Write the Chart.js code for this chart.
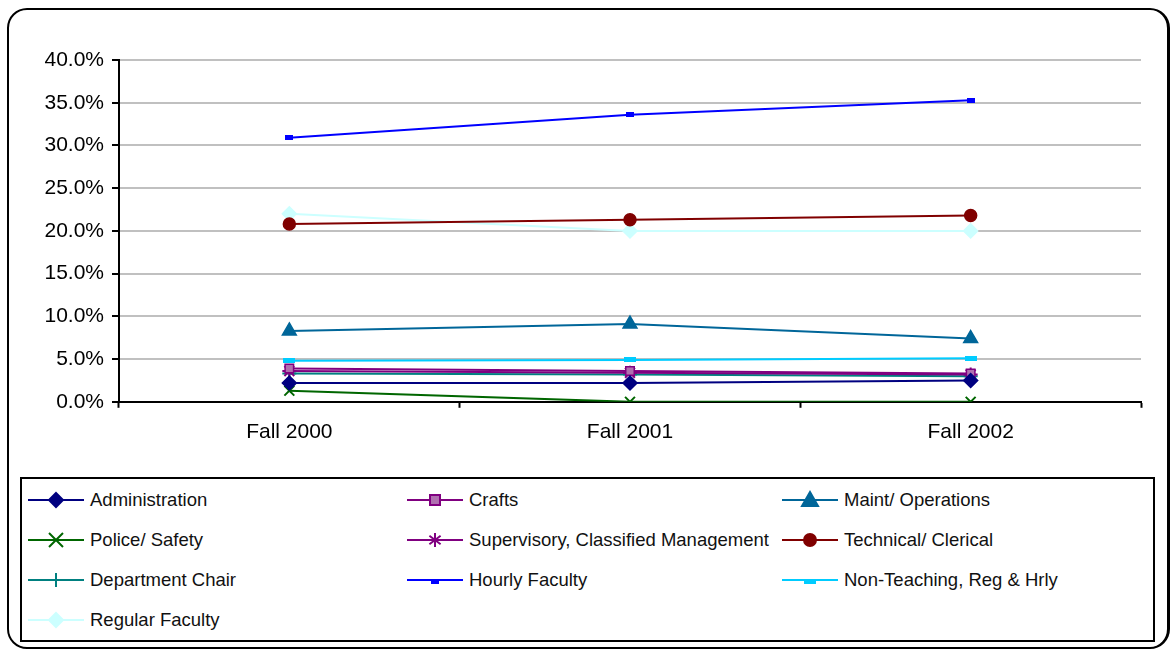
<!DOCTYPE html>
<html>
<head>
<meta charset="utf-8">
<script src="https://cdn.jsdelivr.net/npm/chart.js@4/dist/chart.umd.min.js"></script>
<style>
  body { margin: 0; background: #fff; font-family: "Liberation Sans", Arial, sans-serif; }
  #frame { position: absolute; left: 7px; top: 8px; width: 1158px; height: 637px; border: 2px solid #000; border-right-width: 3px; border-radius: 20px; }
  #chartWrap { position: absolute; left: 0; top: 0; width: 1172px; height: 470px; }
  #legend { position: absolute; left: 20px; top: 477px; width: 1131px; height: 161px; border: 2px solid #000; }
  .item { position: absolute; height: 24px; display: flex; align-items: center; font-size: 18.5px; color: #111; white-space: nowrap; }
  .item canvas { margin-right: 6px; }
</style>
</head>
<body>
<div id="frame"></div>
<div id="chartWrap"><canvas id="chart" width="1172" height="470"></canvas></div>
<div id="legend"></div>
<script>
// ===============================
// DATA
// ===============================
const terms = ["Fall 2000", "Fall 2001", "Fall 2002"];

const administration = [2.2, 2.2, 2.5];
const crafts = [3.9, 3.6, 3.3];
const maintOperations = [8.3, 9.1, 7.4];
const policeSafety = [1.3, 0.0, 0.0];
const supervisory = [3.6, 3.4, 3.2];
const technicalClerical = [20.8, 21.3, 21.8];
const departmentChair = [3.3, 3.2, 3.0];
const hourlyFaculty = [30.9, 33.6, 35.3];
const nonTeaching = [4.8, 4.9, 5.1];
const regularFaculty = [22.0, 20.0, 20.0];

const yTicks = [0, 5, 10, 15, 20, 25, 30, 35, 40];

// ===============================
// SERIES STYLES
// ===============================
const series = [
  { label: "Administration", data: administration, color: "#000080", style: "rectRot", radius: 7, fill: "#000080" },
  { label: "Crafts", data: crafts, color: "#800080", style: "rect", radius: 6, fill: "#b070b0" },
  { label: "Maint/ Operations", data: maintOperations, color: "#006699", style: "triangle", radius: 8, fill: "#006699" },
  { label: "Police/ Safety", data: policeSafety, color: "#006600", style: "crossRot", radius: 7, fill: "#006600" },
  { label: "Supervisory, Classified Management", data: supervisory, color: "#800080", style: "star", radius: 7, fill: "#800080" },
  { label: "Technical/ Clerical", data: technicalClerical, color: "#800000", style: "circle", radius: 6, fill: "#800000" },
  { label: "Department Chair", data: departmentChair, color: "#008080", style: "cross", radius: 7, fill: "#008080" },
  { label: "Hourly Faculty", data: hourlyFaculty, color: "#0000ff", style: "dash", radius: 4, fill: "#0000ff" },
  { label: "Non-Teaching, Reg & Hrly", data: nonTeaching, color: "#00ccff", style: "dash", radius: 6, fill: "#00ccff" },
  { label: "Regular Faculty", data: regularFaculty, color: "#ccffff", style: "rectRot", radius: 7, fill: "#ccffff" }
];

// small horizontal dash marker drawn on an offscreen canvas
function dashImage(color, w, h) {
  const c = document.createElement("canvas");
  c.width = w; c.height = h;
  const g = c.getContext("2d");
  g.fillStyle = color;
  g.fillRect(0, 0, w, h);
  return c;
}

const datasets = series.map(s => ({
  label: s.label,
  data: s.data,
  borderColor: s.color,
  backgroundColor: s.fill,
  borderWidth: 2,
  tension: 0,
  pointStyle: s.style === "dash" ? dashImage(s.color, s.radius * 2, 5) : s.style,
  pointRadius: s.radius,
  pointBackgroundColor: s.fill,
  pointBorderColor: s.color,
  pointBorderWidth: s.style === "cross" || s.style === "crossRot" || s.style === "star" ? 2 : 1.5
}));

// ===============================
// CHART
// ===============================
const font = { family: "'Liberation Sans', Arial, sans-serif", size: 21 };

new Chart(document.getElementById("chart"), {
  type: "line",
  data: { labels: terms, datasets: datasets },
  options: {
    responsive: false,
    animation: false,
    layout: { padding: { top: 60, right: 31, bottom: 13, left: 0 } },
    plugins: { legend: { display: false }, tooltip: { enabled: false } },
    scales: {
      x: {
        offset: true,
        grid: { display: true, drawOnChartArea: false, offset: true, tickLength: 6, tickColor: "#000", tickWidth: 2 },
        border: { display: true, color: "#000", width: 2 },
        ticks: { color: "#000", font: font, padding: 12 }
      },
      y: {
        min: 0,
        max: 40,
        afterFit: scale => { scale.width = 119; },
        afterBuildTicks: scale => { scale.ticks = yTicks.map(v => ({ value: v })); },
        grid: { color: "#c0c0c0", lineWidth: 2, tickLength: 7, tickColor: "#000", tickWidth: 2 },
        border: { display: true, color: "#000", width: 2 },
        ticks: { color: "#000", font: font, padding: 8, callback: v => v.toFixed(1) + "%" }
      }
    }
  }
});

// ===============================
// LEGEND (3 columns, like the original)
// ===============================
function drawMarker(g, s, x, y) {
  g.fillStyle = s.fill;
  g.strokeStyle = s.color;
  g.lineWidth = 2;
  const r = s.radius;
  g.beginPath();
  switch (s.style) {
    case "rectRot":
      g.moveTo(x, y - r); g.lineTo(x + r, y); g.lineTo(x, y + r); g.lineTo(x - r, y); g.closePath();
      g.fill(); g.stroke(); break;
    case "rect":
      g.rect(x - r + 1, y - r + 1, 2 * r - 2, 2 * r - 2); g.fill(); g.stroke(); break;
    case "triangle":
      g.moveTo(x, y - r); g.lineTo(x + r, y + r * 0.75); g.lineTo(x - r, y + r * 0.75); g.closePath();
      g.fill(); g.stroke(); break;
    case "circle":
      g.arc(x, y, r, 0, Math.PI * 2); g.fill(); g.stroke(); break;
    case "crossRot":
      g.moveTo(x - r, y - r); g.lineTo(x + r, y + r); g.moveTo(x + r, y - r); g.lineTo(x - r, y + r); g.stroke(); break;
    case "cross":
      g.moveTo(x, y - r); g.lineTo(x, y + r); g.stroke(); break;
    case "star":
      g.moveTo(x, y - r); g.lineTo(x, y + r);
      g.moveTo(x - r * 0.8, y - r * 0.6); g.lineTo(x + r * 0.8, y + r * 0.6);
      g.moveTo(x + r * 0.8, y - r * 0.6); g.lineTo(x - r * 0.8, y + r * 0.6); g.stroke(); break;
    case "dash":
      g.fillRect(x - r, y - 1, 2 * r, 5); break;
  }
}

const legendBox = document.getElementById("legend");
const colX = [6, 385, 760];
const rowY = [9, 49, 89, 129];
series.forEach((s, i) => {
  const item = document.createElement("div");
  item.className = "item";
  item.style.left = colX[i % 3] + "px";
  item.style.top = rowY[Math.floor(i / 3)] + "px";
  const c = document.createElement("canvas");
  c.width = 56; c.height = 24;
  const g = c.getContext("2d");
  g.strokeStyle = s.color;
  g.lineWidth = 2;
  g.beginPath(); g.moveTo(0, 12); g.lineTo(56, 12); g.stroke();
  drawMarker(g, s, 28, 12);
  item.appendChild(c);
  item.appendChild(document.createTextNode(s.label));
  legendBox.appendChild(item);
});
</script>
</body>
</html>
